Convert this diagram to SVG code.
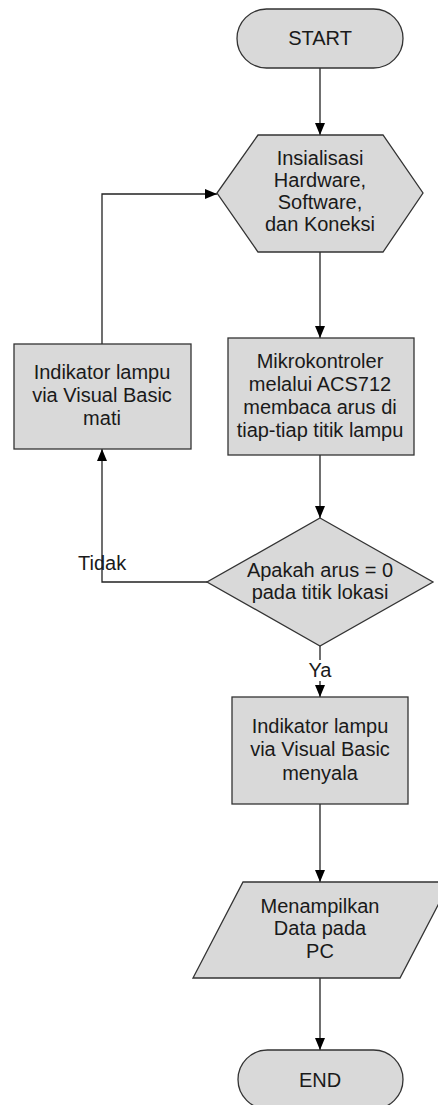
<svg xmlns="http://www.w3.org/2000/svg" width="438" height="1105" viewBox="0 0 438 1105">
<defs>
<marker id="arr" markerUnits="userSpaceOnUse" markerWidth="12" markerHeight="12" viewBox="0 0 12 12" refX="12" refY="6" orient="auto">
<path d="M0,1 L12,6 L0,11 Z" fill="#000"/>
</marker>
<style>
.shape{fill:#d9d9d9;stroke:#333;stroke-width:1.3}
.t{font-family:"Liberation Sans",Arial,sans-serif;font-size:20px;fill:#1a1a1a;text-anchor:middle}
.c{fill:none;stroke:#222;stroke-width:1.3}
</style>
</defs>
<rect width="438" height="1105" fill="#fff"/>
<g id="connectors">
<path class="c" d="M320,68 V135" marker-end="url(#arr)"/>
<path class="c" d="M320,252 V338" marker-end="url(#arr)"/>
<path class="c" d="M320,455 V518" marker-end="url(#arr)"/>
<path class="c" d="M320,646 V697" marker-end="url(#arr)"/>
<path class="c" d="M320,804 V882" marker-end="url(#arr)"/>
<path class="c" d="M320,978 V1050" marker-end="url(#arr)"/>
<path class="c" d="M207,582 H102 V449" marker-end="url(#arr)"/>
<path class="c" d="M102,344 V194 H217" marker-end="url(#arr)"/>
<rect x="306" y="660" width="28" height="21" fill="#fff"/>
<text class="t" x="320" y="677">Ya</text>
<text class="t" x="78" y="570" style="text-anchor:start">Tidak</text>
</g>
<g id="start">
<rect class="shape" x="237" y="9" width="166" height="59" rx="29.5"/>
<text class="t" x="320" y="45">START</text>
</g>
<g id="init">
<polygon class="shape" points="258,135 383,135 423,193 383,252 258,252 217,193"/>
<text class="t" x="320" y="165">Insialisasi</text>
<text class="t" x="320" y="187">Hardware,</text>
<text class="t" x="320" y="209">Software,</text>
<text class="t" x="320" y="231">dan Koneksi</text>
</g>
<g id="baca">
<rect class="shape" x="228" y="338" width="186" height="117"/>
<text class="t" x="320" y="368">Mikrokontroler</text>
<text class="t" x="320" y="391">melalui ACS712</text>
<text class="t" x="320" y="414">membaca arus di</text>
<text class="t" x="320" y="437">tiap-tiap titik lampu</text>
</g>
<g id="mati">
<rect class="shape" x="14" y="344" width="177" height="105"/>
<text class="t" x="102" y="379">Indikator lampu</text>
<text class="t" x="102" y="402">via Visual Basic</text>
<text class="t" x="102" y="425">mati</text>
</g>
<g id="cek">
<polygon class="shape" points="320,518 433,582 320,646 207,582"/>
<text class="t" x="320" y="577">Apakah arus = 0</text>
<text class="t" x="320" y="599">pada titik lokasi</text>
</g>
<g id="nyala">
<rect class="shape" x="232" y="697" width="176" height="107"/>
<text class="t" x="320" y="733">Indikator lampu</text>
<text class="t" x="320" y="756">via Visual Basic</text>
<text class="t" x="320" y="780">menyala</text>
</g>
<g id="tampil">
<polygon class="shape" points="243,882 450,882 400,978 193,978"/>
<text class="t" x="320" y="913">Menampilkan</text>
<text class="t" x="320" y="935">Data pada</text>
<text class="t" x="320" y="958">PC</text>
</g>
<g id="end">
<rect class="shape" x="238" y="1050" width="165" height="59" rx="29.5"/>
<text class="t" x="320" y="1087">END</text>
</g>
</svg>
